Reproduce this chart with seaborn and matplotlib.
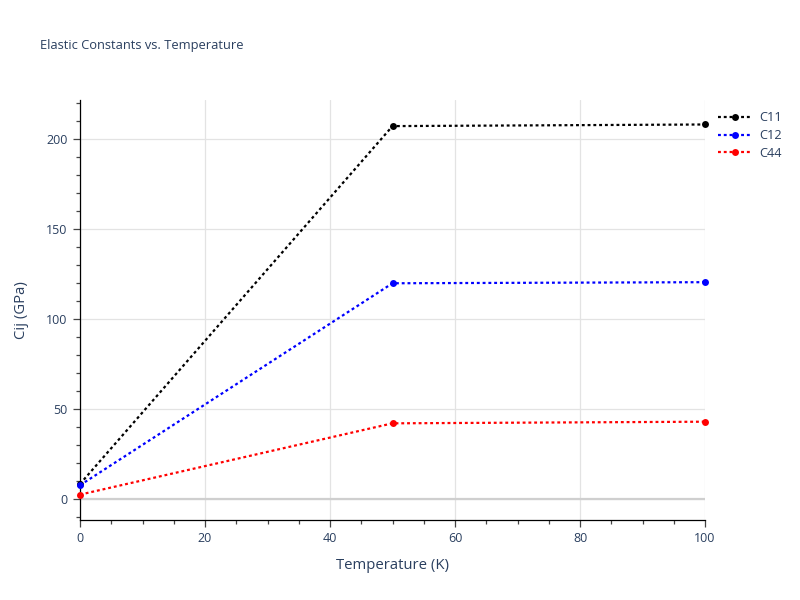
import matplotlib
matplotlib.use("Agg")
import matplotlib.pyplot as plt
from matplotlib.ticker import MultipleLocator
import seaborn as sns
import pandas as pd

temperature = [0, 50, 100]
c11 = [8.5, 207.3, 208.2]
c12 = [7.8, 120.0, 120.6]
c44 = [2.6, 42.2, 43.1]
series_names = ["C11", "C12", "C44"]
series_colors = ["black", "blue", "red"]

df = pd.DataFrame({
    "Temperature (K)": temperature * 3,
    "Cij (GPa)": c11 + c12 + c44,
    "series": [n for n in series_names for _ in temperature],
})

sns.set_theme(style="white")
plt.rcParams["font.family"] = ["Open Sans", "DejaVu Sans"]
text_color = "#2a3f5f"

fig = plt.figure(figsize=(8, 6), dpi=100)
ax = fig.add_axes([80 / 800, 80 / 600, 625 / 800, 420 / 600])

sns.lineplot(data=df, x="Temperature (K)", y="Cij (GPa)", hue="series",
             palette=dict(zip(series_names, series_colors)), marker="o",
             markersize=5, markeredgewidth=0, linewidth=1.6, ax=ax,
             dashes=False, zorder=3, clip_on=False)
for line in ax.lines:
    line.set_linestyle((0, (1.3, 1.3)))

ax.set_xlim(0, 100)
ax.set_ylim(-11.5, 221.8)
ax.xaxis.set_major_locator(MultipleLocator(20))
ax.xaxis.set_minor_locator(MultipleLocator(5))
ax.yaxis.set_major_locator(MultipleLocator(50))
ax.yaxis.set_minor_locator(MultipleLocator(10))
ax.grid(True, which="major", color="#e3e3e3", linewidth=0.9, zorder=0)
ax.axhline(0, color="#cfcfcf", linewidth=1.6, zorder=1)
for s in ["top", "right"]:
    ax.spines[s].set_visible(False)
for s in ["left", "bottom"]:
    ax.spines[s].set_color("black")
    ax.spines[s].set_linewidth(0.9)
ax.tick_params(which="major", direction="out", length=5, width=0.9, color="#444444",
               labelsize=9, labelcolor=text_color, left=True, bottom=True, pad=4)
ax.tick_params(which="minor", direction="out", length=3, width=0.9, color="#444444",
               left=True, bottom=True)
ax.set_xlabel("Temperature (K)", fontsize=10.7, color=text_color, labelpad=9)
ax.set_ylabel("Cij (GPa)", fontsize=10.7, color=text_color, labelpad=12)

handles, labels = ax.get_legend_handles_labels()
ax.legend(handles, labels, loc="upper left", bbox_to_anchor=(712 / 800, 1 - 105 / 600),
          bbox_transform=fig.transFigure, frameon=False, fontsize=9.2,
          labelcolor=text_color, handlelength=2.6, borderpad=0, labelspacing=0.36,
          handletextpad=0.6)
fig.text(40 / 800, 1 - 46 / 600, "Elastic Constants vs. Temperature",
         fontsize=9.3, color=text_color, va="center", ha="left")

fig.savefig("out.png", dpi=100)
